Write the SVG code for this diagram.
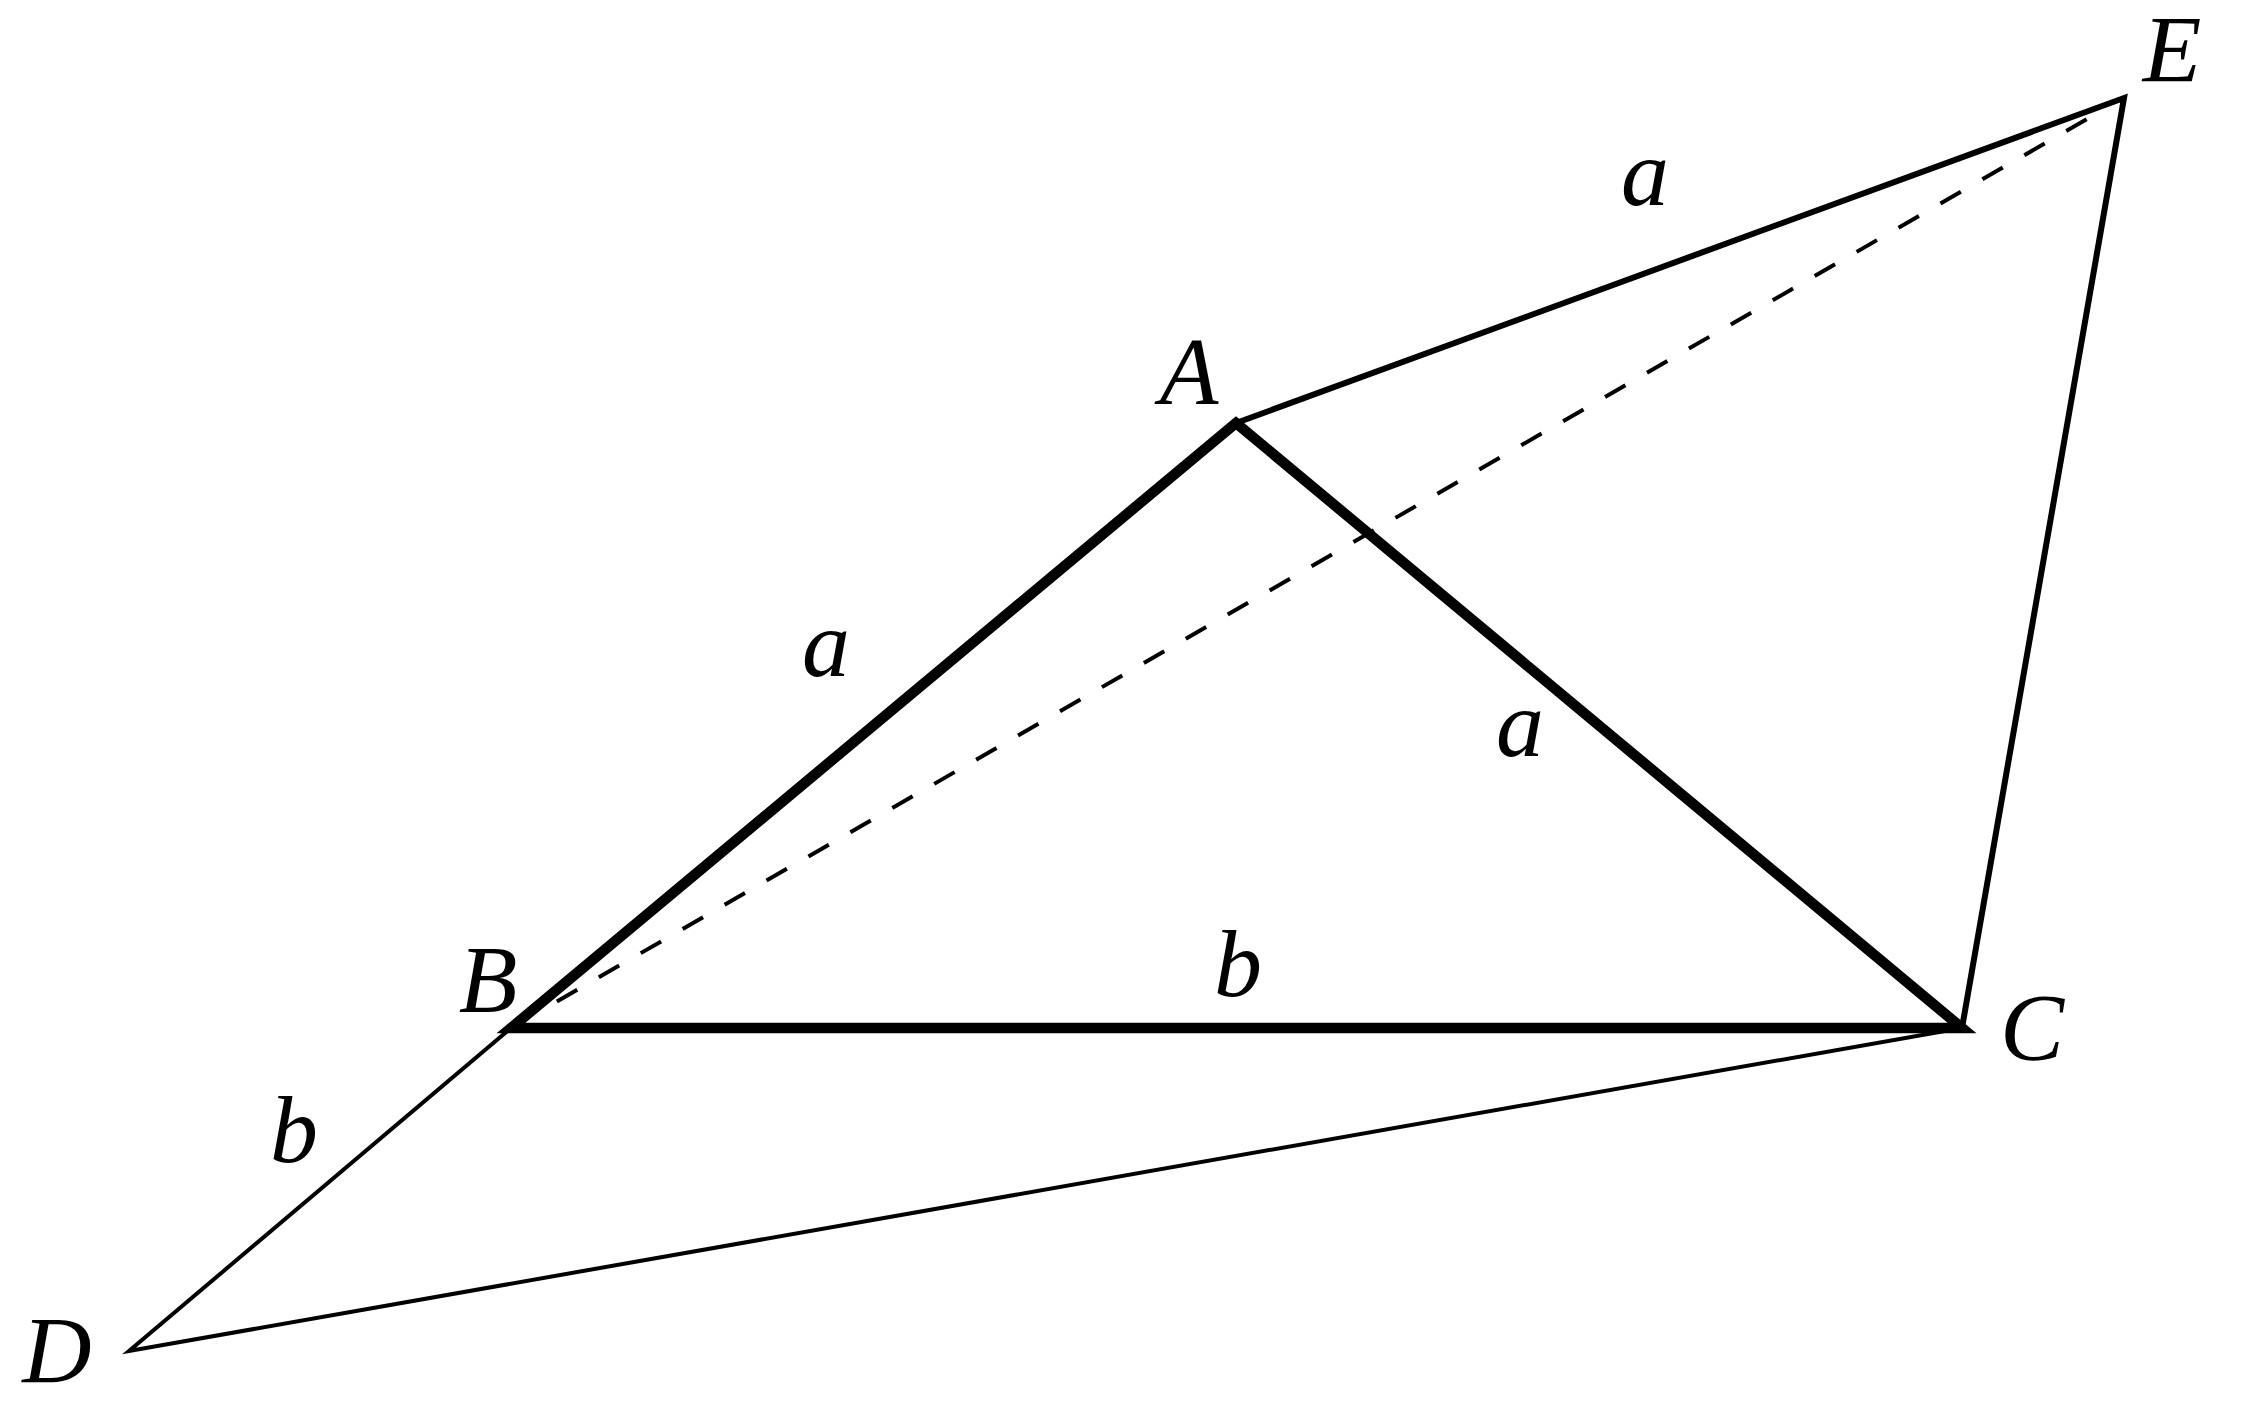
<svg xmlns="http://www.w3.org/2000/svg" width="2246" height="1420" viewBox="0 0 2246 1420">
<style>
.lbl{font-family:"Liberation Serif","Times New Roman",serif;font-style:italic;font-size:96px;fill:#000;text-anchor:middle}
.thick{fill:none;stroke:#000;stroke-width:10.5;stroke-linejoin:miter}
.mid{fill:none;stroke:#000;stroke-width:6;stroke-linejoin:miter}
.thin{fill:none;stroke:#000;stroke-width:4;stroke-linejoin:miter}
.dash{fill:none;stroke:#000;stroke-width:4;stroke-dasharray:23.5 24.9}
</style>
<rect width="2246" height="1420" fill="#fff"/>
<g id="connectors">
<polyline class="mid" points="1236,423 2124,98 1962,1028"/>
<polyline class="thin" points="511,1028 129,1351 1962,1028"/>
<line class="dash" x1="556.9" y1="1001.5" x2="2087" y2="119"/>
<polygon class="thick" points="1236,423 511,1028 1962,1028"/>
</g>
<g id="node-A"><text class="lbl" x="1189" y="404">A</text></g>
<g id="node-B"><text class="lbl" x="488" y="1012">B</text></g>
<g id="node-C"><text class="lbl" x="2032" y="1060">C</text></g>
<g id="node-D"><text class="lbl" x="57" y="1383">D</text></g>
<g id="node-E"><text class="lbl" x="2172" y="82">E</text></g>
<g id="edge-labels">
<text class="lbl" x="1645" y="205">a</text>
<text class="lbl" x="826" y="676">a</text>
<text class="lbl" x="1520" y="756">a</text>
<text class="lbl" x="1238" y="996">b</text>
<text class="lbl" x="294" y="1162">b</text>
</g>
</svg>
